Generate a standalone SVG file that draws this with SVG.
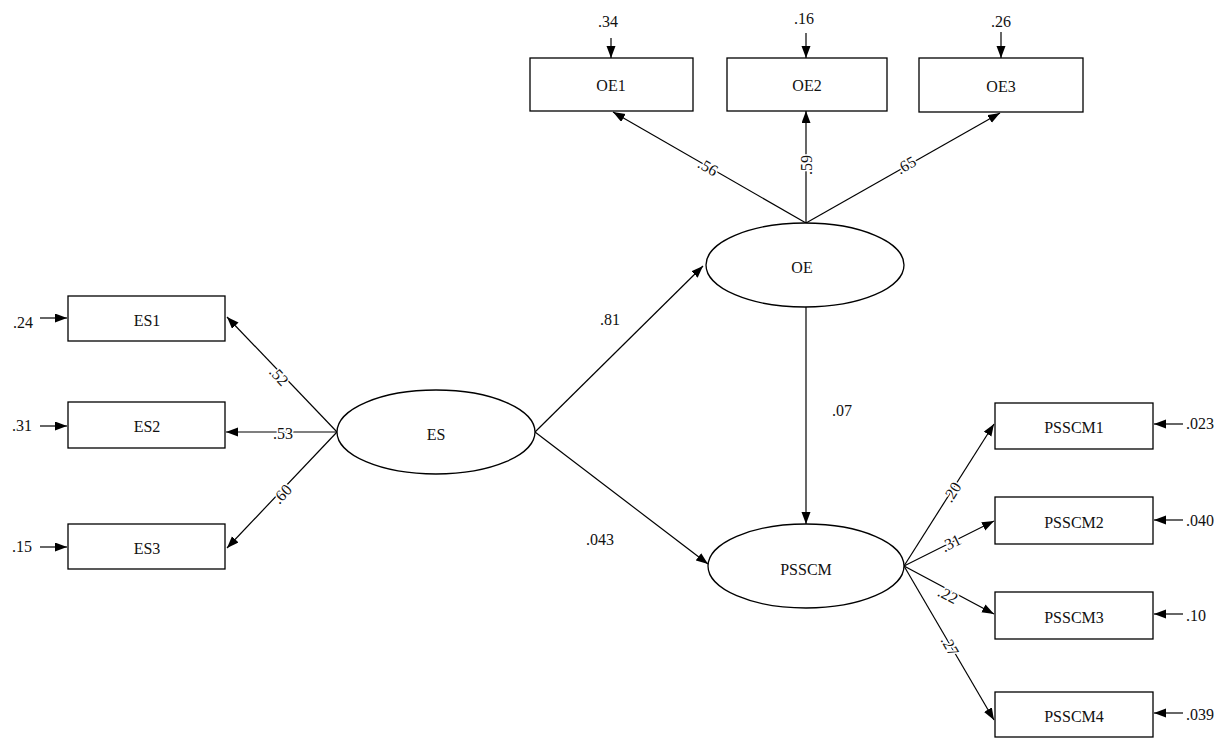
<svg xmlns="http://www.w3.org/2000/svg" width="1227" height="743" viewBox="0 0 1227 743" font-family="'Liberation Serif', 'Times New Roman', serif">
<style>
.box{fill:#fff;stroke:#000;stroke-width:1.3}
.ell{fill:#fff;stroke:#000;stroke-width:1.3}
.t{font-family:'Liberation Serif','Times New Roman',serif;font-size:16px;fill:#111;text-anchor:middle;dominant-baseline:central}
.lb{font-family:'Liberation Serif','Times New Roman',serif;font-size:16px;fill:#111;text-anchor:middle;dominant-baseline:central;stroke:#fff;stroke-width:3;paint-order:stroke}
.c{stroke:#000;stroke-width:1.2;fill:none;marker-end:url(#ah)}
</style>
<defs>
<marker id="ah" markerUnits="userSpaceOnUse" markerWidth="13" markerHeight="10" refX="12" refY="4.5" orient="auto">
<path d="M0,0 L12,4.5 L0,9 z" fill="#000"/>
</marker>
</defs>
<rect width="1227" height="743" fill="#fff"/>
<g id="connectors">
<line class="c" x1="806" y1="223" x2="613" y2="112"/>
<line class="c" x1="806" y1="223" x2="806" y2="111"/>
<line class="c" x1="806" y1="223" x2="1000" y2="113"/>
<line class="c" x1="611" y1="38" x2="611" y2="58"/>
<line class="c" x1="806" y1="33" x2="806" y2="58"/>
<line class="c" x1="1001" y1="32" x2="1001" y2="58"/>
<line class="c" x1="337" y1="432" x2="227" y2="317"/>
<line class="c" x1="337" y1="432" x2="226" y2="432"/>
<line class="c" x1="337" y1="432" x2="227" y2="548"/>
<line class="c" x1="40" y1="318" x2="67" y2="318"/>
<line class="c" x1="40" y1="426" x2="67" y2="426"/>
<line class="c" x1="40" y1="547" x2="67" y2="547"/>
<line class="c" x1="535" y1="432" x2="703" y2="266"/>
<line class="c" x1="535" y1="432" x2="708" y2="564"/>
<line class="c" x1="806" y1="307" x2="806" y2="524"/>
<line class="c" x1="904" y1="566" x2="994" y2="424"/>
<line class="c" x1="904" y1="566" x2="994" y2="521"/>
<line class="c" x1="904" y1="566" x2="994" y2="614"/>
<line class="c" x1="904" y1="566" x2="994" y2="720"/>
<line class="c" x1="1183" y1="424" x2="1154" y2="424"/>
<line class="c" x1="1183" y1="520" x2="1154" y2="520"/>
<line class="c" x1="1183" y1="614" x2="1154" y2="614"/>
<line class="c" x1="1183" y1="713" x2="1154" y2="713"/>
<text class="lb" transform="translate(708,167) rotate(29.8)">.56</text>
<text class="lb" transform="translate(806,165) rotate(-90)">.59</text>
<text class="lb" transform="translate(906,165) rotate(-29.4)">.65</text>
<text class="lb" transform="translate(279,376) rotate(47)">.52</text>
<text class="lb" x="283" y="433">.53</text>
<text class="lb" transform="translate(282,494) rotate(-47)">.60</text>
<text class="t" x="610" y="319">.81</text>
<text class="t" x="600" y="539">.043</text>
<text class="t" x="842" y="410">.07</text>
<text class="lb" transform="translate(952,492) rotate(-58)">.20</text>
<text class="lb" transform="translate(951,543) rotate(-26.6)">.31</text>
<text class="lb" transform="translate(948,595) rotate(28)">.22</text>
<text class="lb" transform="translate(950,646) rotate(60)">.27</text>
<text class="t" x="608" y="21">.34</text>
<text class="t" x="804" y="18">.16</text>
<text class="t" x="1001" y="21">.26</text>
<text class="t" x="23" y="322">.24</text>
<text class="t" x="22" y="425">.31</text>
<text class="t" x="22" y="546">.15</text>
<text class="t" x="1200" y="423">.023</text>
<text class="t" x="1200" y="520">.040</text>
<text class="t" x="1196" y="615">.10</text>
<text class="t" x="1200" y="714">.039</text>
</g>
<g id="OE1"><rect class="box" x="530" y="58" width="163" height="53"/><text class="t" x="611" y="85">OE1</text></g>
<g id="OE2"><rect class="box" x="727" y="58" width="160" height="53"/><text class="t" x="807" y="85">OE2</text></g>
<g id="OE3"><rect class="box" x="919" y="58" width="164" height="54"/><text class="t" x="1001" y="86">OE3</text></g>
<g id="OE"><ellipse class="ell" cx="805" cy="265" rx="99" ry="42"/><text class="t" x="802" y="267">OE</text></g>
<g id="ES"><ellipse class="ell" cx="436" cy="432" rx="99" ry="42"/><text class="t" x="436" y="434">ES</text></g>
<g id="PSSCM"><ellipse class="ell" cx="806" cy="566" rx="98" ry="42"/><text class="t" x="806" y="569">PSSCM</text></g>
<g id="ES1"><rect class="box" x="68" y="296" width="157" height="45"/><text class="t" x="147" y="320">ES1</text></g>
<g id="ES2"><rect class="box" x="68" y="402" width="157" height="46"/><text class="t" x="147" y="426">ES2</text></g>
<g id="ES3"><rect class="box" x="68" y="524" width="157" height="45"/><text class="t" x="147" y="548">ES3</text></g>
<g id="PSSCM1"><rect class="box" x="995" y="403" width="158" height="46"/><text class="t" x="1074" y="427">PSSCM1</text></g>
<g id="PSSCM2"><rect class="box" x="995" y="497" width="158" height="47"/><text class="t" x="1074" y="522">PSSCM2</text></g>
<g id="PSSCM3"><rect class="box" x="995" y="592" width="158" height="47"/><text class="t" x="1074" y="617">PSSCM3</text></g>
<g id="PSSCM4"><rect class="box" x="995" y="692" width="158" height="45"/><text class="t" x="1074" y="716">PSSCM4</text></g>
</svg>
